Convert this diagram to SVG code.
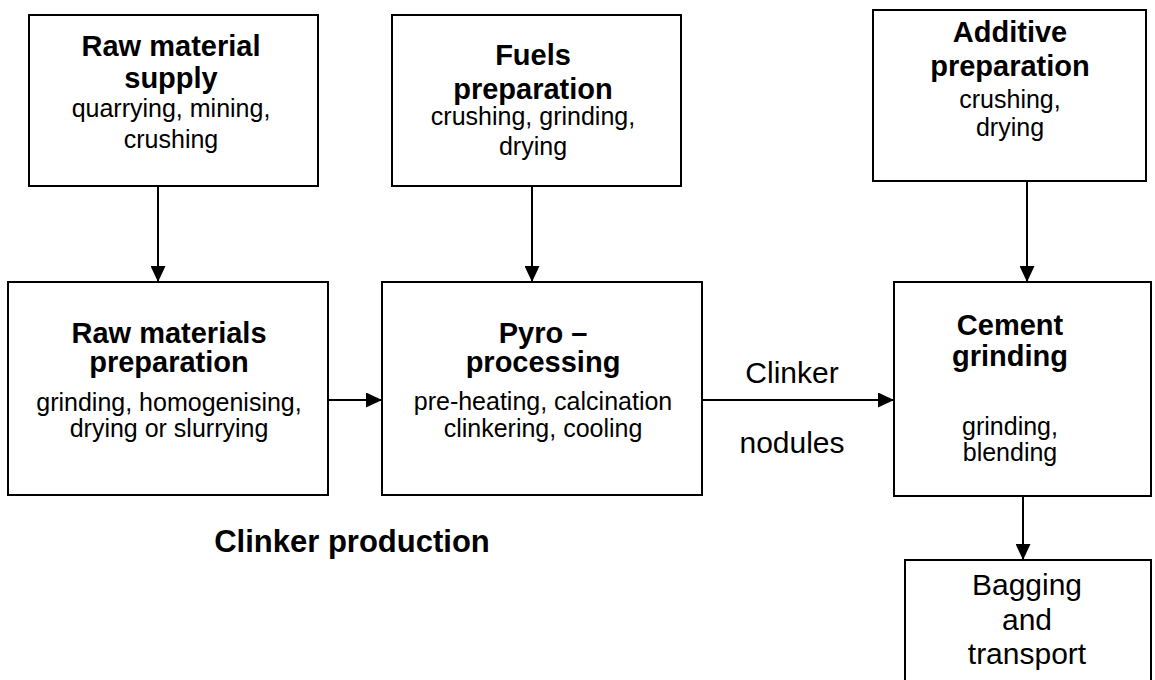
<svg xmlns="http://www.w3.org/2000/svg" width="1155" height="680" viewBox="0 0 1155 680">
<style>
.box{fill:#fff;stroke:#000;stroke-width:2}
.t{font-family:"Liberation Sans",Arial,sans-serif;text-anchor:middle;fill:#000}
.b{font-weight:bold;font-size:29px}
.r{font-size:25px}
.l{font-size:30px}
.conn line{stroke:#000;stroke-width:2;fill:none}
</style>
<defs>
<marker id="ah" markerUnits="userSpaceOnUse" markerWidth="16" markerHeight="15" refX="16" refY="7.5" orient="auto">
<path d="M0,0 L16,7.5 L0,15 z" fill="#000"/>
</marker>
</defs>
<rect width="1155" height="680" fill="#fff"/>
<g class="conn">
<line x1="158" y1="186" x2="158" y2="282" marker-end="url(#ah)"/>
<line x1="532" y1="186" x2="532" y2="282" marker-end="url(#ah)"/>
<line x1="1027" y1="181" x2="1027" y2="282" marker-end="url(#ah)"/>
<line x1="1023" y1="496" x2="1023" y2="560" marker-end="url(#ah)"/>
<line x1="328" y1="400" x2="382" y2="400" marker-end="url(#ah)"/>
<line x1="702" y1="400" x2="894" y2="400" marker-end="url(#ah)"/>
</g>
<g id="raw-supply">
<rect class="box" x="29" y="15" width="289" height="171"/>
<text class="t b" x="171" y="56">Raw material</text>
<text class="t b" x="171" y="88">supply</text>
<text class="t r" x="171" y="117">quarrying, mining,</text>
<text class="t r" x="171" y="148">crushing</text>
</g>
<g id="fuels">
<rect class="box" x="392" y="15" width="289" height="171"/>
<text class="t b" x="533" y="65">Fuels</text>
<text class="t b" x="533" y="99">preparation</text>
<text class="t r" x="533" y="125">crushing, grinding,</text>
<text class="t r" x="533" y="155">drying</text>
</g>
<g id="additive">
<rect class="box" x="873" y="10" width="273" height="171"/>
<text class="t b" x="1010" y="42">Additive</text>
<text class="t b" x="1010" y="76">preparation</text>
<text class="t r" x="1010" y="108">crushing,</text>
<text class="t r" x="1010" y="136">drying</text>
</g>
<g id="raw-prep">
<rect class="box" x="8" y="282" width="320" height="213"/>
<text class="t b" x="169" y="343">Raw materials</text>
<text class="t b" x="169" y="372">preparation</text>
<text class="t r" x="169" y="411">grinding, homogenising,</text>
<text class="t r" x="169" y="437">drying or slurrying</text>
</g>
<g id="pyro">
<rect class="box" x="382" y="282" width="320" height="213"/>
<text class="t b" x="543" y="343">Pyro –</text>
<text class="t b" x="543" y="372">processing</text>
<text class="t r" x="543" y="410">pre-heating, calcination</text>
<text class="t r" x="543" y="437">clinkering, cooling</text>
</g>
<g id="cement">
<rect class="box" x="894" y="282" width="257" height="214"/>
<text class="t b" x="1010" y="335">Cement</text>
<text class="t b" x="1010" y="366">grinding</text>
<text class="t r" x="1010" y="435">grinding,</text>
<text class="t r" x="1010" y="461">blending</text>
</g>
<g id="bagging">
<rect class="box" x="905" y="560" width="246" height="130"/>
<text class="t l" x="1027" y="595">Bagging</text>
<text class="t l" x="1027" y="630">and</text>
<text class="t l" x="1027" y="664">transport</text>
</g>
<g id="labels">
<text class="t l" x="792" y="383">Clinker</text>
<text class="t l" x="792" y="453">nodules</text>
<text class="t" x="352" y="552" style="font-weight:bold;font-size:31px">Clinker production</text>
</g>
</svg>
